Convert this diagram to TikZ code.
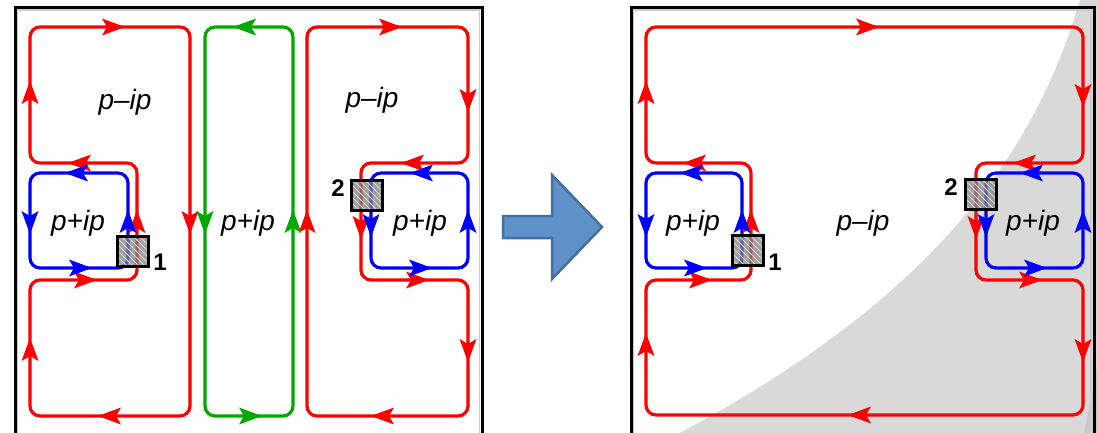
\documentclass[tikz,border=0pt]{standalone}
\usepackage{fontspec}
\setmainfont{Liberation Sans}
\usetikzlibrary{patterns}

\definecolor{edgeRed}{HTML}{FF0000}
\definecolor{edgeBlue}{HTML}{0000FF}
\definecolor{edgeGreen}{HTML}{00A800}
\definecolor{shadeGrey}{HTML}{D9D9D9}
\definecolor{shadeDark}{HTML}{C8C8C8}
\definecolor{arrowFill}{HTML}{5E91C8}
\definecolor{arrowBorder}{HTML}{41719C}

\tikzset{
    flowline/.style={line width=1.6pt, rounded corners=5pt},
    panelframe/.style={line width=1.5pt},
    device/.style={draw=black, line width=1.5pt, fill=gray, fill opacity=0.75,
        postaction={pattern=north west lines, pattern color=gray!30},
        postaction={draw=black, line width=1.5pt}},
    devicesize/.style={minimum width=15.5pt, minimum height=15pt, inner sep=0pt},
    region/.style={font=\fontsize{14}{16}\selectfont\itshape},
    port/.style={font=\fontsize{12}{14}\selectfont\bfseries}
}

% arrowhead on a channel: colour, centre, direction angle
\newcommand{\flowhead}[4]{%
    \fill[#1, shift={(#2,#3)}, rotate=#4] (12,0) -- (-11,8.5) -- (-6,0) -- (-11,-8.5) -- cycle;}

\begin{document}
\begin{tikzpicture}[x=0.5pt, y=-0.5pt]
    \useasboundingbox (0,0) rectangle (1097,433);
    \clip (0,0) rectangle (1097,433);

    % Shaded area in the right panel
    \fill[shadeGrey] (1080,0) .. controls (1025,190) and (890,320) .. (680,433)
        -- (1097,433) -- (1097,0) -- cycle;
    \fill[shadeDark] (1097,368) .. controls (1092,395) and (1088,415) .. (1084,433)
        -- (1097,433) -- cycle;

    % Panel frames
    \draw[gray!40, line width=0.6pt] (17.5,440) -- (17.5,10) -- (479.5,10) -- (479.5,440);
    \draw[panelframe] (15,440) -- (15,7.5) -- (482,7.5) -- (482,440);
    \draw[gray!40, line width=0.6pt] (633.5,440) -- (633.5,10) -- (1091,10) -- (1091,440);
    \draw[panelframe] (631,440) -- (631,7.5) -- (1094,7.5) -- (1094,440);

    % Left panel: edge channels
    \draw[flowline, edgeRed] (30,100) -- (30,27) -- (190,27) -- (190,416) -- (30,416)
        -- (30,280) -- (137,280) -- (137,163) -- (30,163) -- cycle;
    \draw[flowline, edgeBlue] (30,220) -- (30,173) -- (128,173) -- (128,268) -- (30,268) -- cycle;
    \draw[flowline, edgeGreen] (205,220) -- (205,27) -- (293,27) -- (293,416) -- (205,416) -- cycle;
    \draw[flowline, edgeRed] (307,220) -- (307,27) -- (468,27) -- (468,163) -- (361,163)
        -- (361,280) -- (468,280) -- (468,416) -- (307,416) -- cycle;
    \draw[flowline, edgeBlue] (371,220) -- (371,173) -- (468,173) -- (468,268) -- (371,268) -- cycle;

    % Right panel: edge channels
    \draw[flowline, edgeRed] (646,100) -- (646,27) -- (1083,27) -- (1083,163) -- (976,163)
        -- (976,280) -- (1083,280) -- (1083,415) -- (646,415) -- (646,280) -- (751,280)
        -- (751,163) -- (646,163) -- cycle;
    \draw[flowline, edgeBlue] (646,220) -- (646,173) -- (742,173) -- (742,268) -- (646,268) -- cycle;
    \draw[flowline, edgeBlue] (986,220) -- (986,173) -- (1083,173) -- (1083,268) -- (986,268) -- cycle;

    % Direction marks
    \foreach \x/\y/\a in {113/27/0, 190/222/270, 110/416/180, 30/350/90, 85/280/0,
            137/222/90, 80/163/180, 30/93/90,
            390/27/0, 468/100/270, 413/163/180, 361/227/270, 417/280/0,
            468/350/270, 383/416/180, 307/222/90,
            867/27/0, 1083/95/270, 1025/163/180, 976/227/270, 1030/280/0,
            1083/350/270, 860/415/180, 646/345/90, 700/280/0, 751/222/90,
            695/163/180, 646/93/90}
        {\flowhead{edgeRed}{\x}{\y}{\a}}
    \foreach \x/\y/\a in {77/173/180, 30/222/270, 80/268/0, 128/222/90,
            422/173/180, 371/225/270, 420/268/0, 468/222/90,
            692/173/180, 646/225/270, 695/268/0, 742/222/90,
            1032/173/180, 986/225/270, 1035/268/0, 1083/222/90}
        {\flowhead{edgeBlue}{\x}{\y}{\a}}
    \foreach \x/\y/\a in {245/27/180, 205/222/270, 250/416/0, 293/222/90}
        {\flowhead{edgeGreen}{\x}{\y}{\a}}

    % Contacts
    \node[device, devicesize] (devOneL) at (132.5,251) {};
    \node[device, devicesize] (devTwoL) at (366.5,195.5) {};
    \node[device, devicesize] (devOneR) at (748,250) {};
    \node[device, devicesize] (devTwoR) at (980.5,194.5) {};
    \node[port] (numOneL) at (160,262) {1};
    \node[port] (numTwoL) at (338,188) {2};
    \node[port] (numOneR) at (775,262) {1};
    \node[port] (numTwoR) at (951,187) {2};

    % Region labels
    \node[region] (minusL) at (125,102) {p–ip};
    \node[region] (plusL) at (78,223) {p+ip};
    \node[region] (plusC) at (248,223) {p+ip};
    \node[region] (minusR) at (372,100) {p–ip};
    \node[region] (plusR) at (420,223) {p+ip};
    \node[region] (plusLL) at (693,223) {p+ip};
    \node[region] (minusM) at (863,223) {p–ip};
    \node[region] (plusRR) at (1033,223) {p+ip};

    % Block arrow between panels
    \draw[fill=arrowFill, draw=arrowBorder, line width=1.25pt]
        (503,216) -- (552,216) -- (552,175) -- (602,227) -- (552,279) -- (552,238)
        -- (503,238) -- cycle;

\end{tikzpicture}
\end{document}
